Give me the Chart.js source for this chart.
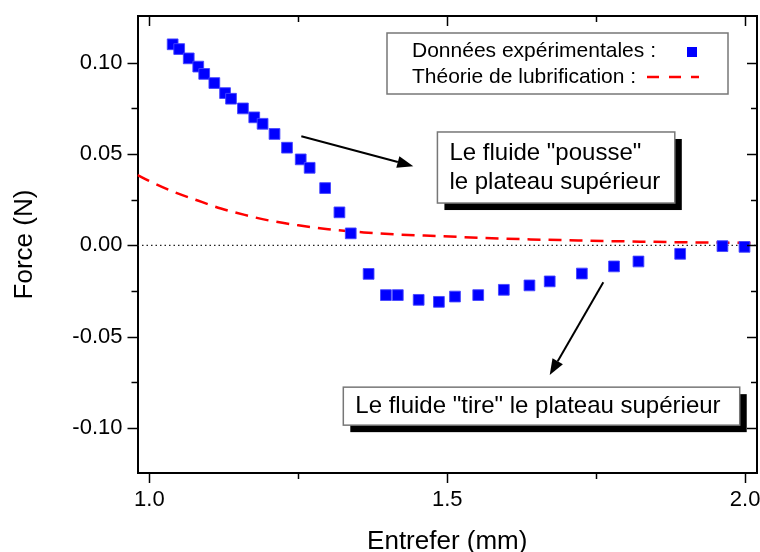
<!DOCTYPE html>
<html>
<head>
<meta charset="utf-8">
<script src="https://cdn.jsdelivr.net/npm/chart.js@4.4.1/dist/chart.umd.min.js"></script>
<style>
  html, body { margin: 0; padding: 0; background: #fff; }
  #wrap { width: 760px; height: 552px; }
</style>
</head>
<body>
<div id="wrap"><canvas id="chart"></canvas></div>
<script>
// Experimental points (gap in mm, force in N)
const gapMm = [1.039, 1.050, 1.066, 1.082, 1.092, 1.109, 1.127, 1.137, 1.157, 1.176,
  1.190, 1.210, 1.231, 1.254, 1.269, 1.295, 1.319, 1.338, 1.368, 1.397,
  1.417, 1.452, 1.486, 1.513, 1.552, 1.595, 1.638, 1.672, 1.726, 1.780,
  1.821, 1.891, 1.962, 1.999];
const forceN = [0.1101, 0.1075, 0.1024, 0.0979, 0.0939, 0.0889, 0.0834, 0.0803, 0.0750, 0.0701,
  0.0666, 0.0610, 0.0535, 0.0471, 0.0425, 0.0314, 0.0181, 0.0066, -0.0156, -0.0272,
  -0.0272, -0.0298, -0.0309, -0.0280, -0.0272, -0.0243, -0.0219, -0.0197, -0.0154, -0.0115,
  -0.0088, -0.0046, -0.0004, -0.0008];

// Lubrication theory curve
const theoryGapMm = [0.98, 1.00, 1.04, 1.08, 1.12, 1.16, 1.20, 1.25, 1.30, 1.36,
  1.42, 1.49, 1.56, 1.64, 1.72, 1.80, 1.90, 2.00, 2.02];
const theoryForceN = [0.0385, 0.0352, 0.0294, 0.0247, 0.0202, 0.0167, 0.0137, 0.0110, 0.0089, 0.0071,
  0.0059, 0.0051, 0.0041, 0.0033, 0.0027, 0.0022, 0.0017, 0.0014, 0.0013];

const xMin = 0.98, xMax = 2.02;
const yMin = -0.1246, yMax = 0.1256;
const xMajorTicks = [1.0, 1.5, 2.0];
const xMinorTicks = [1.25, 1.75];
const yMajorTicks = [-0.10, -0.05, 0.00, 0.05, 0.10];
const yMinorTicks = [-0.075, -0.025, 0.025, 0.075];

const legendLabels = ['Données expérimentales :', 'Théorie de lubrification :'];
const pushText = ['Le fluide "pousse"', 'le plateau supérieur'];
const pullText = ['Le fluide "tire" le plateau supérieur'];

const FONT = "'Liberation Sans', Arial, sans-serif";
const BLUE = '#0000ff';
const RED = '#ff0000';

// box with drop shadow, text lines inside
function shadowBox(ctx, l, t, r, b, lines, lineGap) {
  ctx.fillStyle = '#000';
  ctx.fillRect(l + 7, t + 7, r - l, b - t);
  ctx.fillStyle = '#fff';
  ctx.fillRect(l, t, r - l, b - t);
  ctx.strokeStyle = '#777';
  ctx.lineWidth = 1.5;
  ctx.strokeRect(l, t, r - l, b - t);
  ctx.fillStyle = '#000';
  ctx.font = '24px ' + FONT;
  ctx.textAlign = 'left';
  ctx.textBaseline = 'middle';
  const h = lineGap * (lines.length - 1);
  const cy = (t + b) / 2 - h / 2;
  lines.forEach((s, i) => ctx.fillText(s, l + 12, cy + i * lineGap));
}

function arrow(ctx, x1, y1, x2, y2) {
  const ang = Math.atan2(y2 - y1, x2 - x1);
  const len = 16, hw = 6;
  const bx = x2 - len * Math.cos(ang), by = y2 - len * Math.sin(ang);
  ctx.strokeStyle = '#000';
  ctx.lineWidth = 2;
  ctx.beginPath();
  ctx.moveTo(x1, y1);
  ctx.lineTo(bx, by);
  ctx.stroke();
  ctx.fillStyle = '#000';
  ctx.beginPath();
  ctx.moveTo(x2, y2);
  ctx.lineTo(bx - hw * Math.sin(ang), by + hw * Math.cos(ang));
  ctx.lineTo(bx + hw * Math.sin(ang), by - hw * Math.cos(ang));
  ctx.closePath();
  ctx.fill();
}

// no extra room for overhanging tick labels
function noPad(s) {
  s.paddingTop = 0; s.paddingBottom = 0; s.paddingLeft = 0; s.paddingRight = 0;
}

const framePlugin = {
  id: 'frame',
  afterDraw(chart) {
    const { ctx, chartArea: a, scales: { x, y } } = chart;
    ctx.save();
    ctx.strokeStyle = '#000';
    ctx.lineWidth = 2;
    ctx.beginPath();
    ctx.moveTo(a.left, a.top);
    ctx.lineTo(a.right, a.top);
    ctx.lineTo(a.right, a.bottom);
    ctx.stroke();

    const seg = (x1, y1, x2, y2) => {
      ctx.beginPath(); ctx.moveTo(x1, y1); ctx.lineTo(x2, y2); ctx.stroke();
    };
    ctx.lineWidth = 1.5;
    // bottom/left ticks outward, top/right ticks inward
    xMajorTicks.forEach(v => {
      const px = Math.round(x.getPixelForValue(v)) + 0.5;
      seg(px, a.bottom, px, a.bottom + 10);
      seg(px, a.top, px, a.top + 10);
    });
    xMinorTicks.forEach(v => {
      const px = Math.round(x.getPixelForValue(v)) + 0.5;
      seg(px, a.bottom, px, a.bottom + 6);
      seg(px, a.top, px, a.top + 6);
    });
    yMajorTicks.forEach(v => {
      const py = Math.round(y.getPixelForValue(v)) + 0.5;
      seg(a.left, py, a.left - 10, py);
      seg(a.right, py, a.right - 10, py);
    });
    yMinorTicks.forEach(v => {
      const py = Math.round(y.getPixelForValue(v)) + 0.5;
      seg(a.left, py, a.left - 6, py);
      seg(a.right, py, a.right - 6, py);
    });

    // legend
    const lx = 387, ly = 33, lw = 341, lh = 61;
    ctx.fillStyle = '#fff';
    ctx.fillRect(lx, ly, lw, lh);
    ctx.strokeStyle = '#777';
    ctx.lineWidth = 1.5;
    ctx.strokeRect(lx, ly, lw, lh);
    ctx.fillStyle = '#000';
    ctx.font = '21px ' + FONT;
    ctx.textAlign = 'left';
    ctx.textBaseline = 'middle';
    ctx.fillText(legendLabels[0], lx + 25, ly + 18);
    ctx.fillText(legendLabels[1], lx + 25, ly + 44);
    ctx.fillStyle = BLUE;
    ctx.fillRect(687, ly + 14, 10, 10);
    ctx.strokeStyle = RED;
    ctx.lineWidth = 2.5;
    ctx.setLineDash([12, 10]);
    seg(647, ly + 44, 699, ly + 44);
    ctx.setLineDash([]);

    // annotations anchored in data units
    const X = v => x.getPixelForValue(v), Y = v => y.getPixelForValue(v);
    arrow(ctx, X(1.255), Y(0.0598), X(1.443), Y(0.0434));
    shadowBox(ctx, X(1.4835), Y(0.0621), X(1.882), Y(0.0232), pushText, 29);
    arrow(ctx, X(1.762), Y(-0.0201), X(1.672), Y(-0.0710));
    shadowBox(ctx, X(1.3255), Y(-0.0776), X(1.991), Y(-0.0984), pullText, 0);
    ctx.restore();
  }
};

new Chart(document.getElementById('chart'), {
  type: 'scatter',
  data: {
    datasets: [
      {
        label: 'Données expérimentales',
        data: gapMm.map((g, i) => ({ x: g, y: forceN[i] })),
        pointStyle: 'rect',
        pointRadius: 7.6,
        backgroundColor: BLUE,
        borderColor: 'rgba(70,70,255,0.9)',
        borderWidth: 1,
        showLine: false,
      },
      {
        label: 'Théorie de lubrification',
        data: theoryGapMm.map((g, i) => ({ x: g, y: theoryForceN[i] })),
        showLine: true,
        borderColor: RED,
        borderWidth: 2.5,
        borderDash: [13, 8],
        pointRadius: 0,
        tension: 0.4,
        cubicInterpolationMode: 'monotone',
      },
      {
        label: 'zero',
        data: [{ x: xMin, y: 0 }, { x: xMax, y: 0 }],
        showLine: true,
        borderColor: '#222',
        borderWidth: 1.3,
        borderDash: [1.5, 3],
        pointRadius: 0,
      },
    ],
  },
  options: {
    responsive: true,
    maintainAspectRatio: false,
    animation: false,
    devicePixelRatio: 1,
    layout: { autoPadding: false, padding: { top: 16, right: 3, left: 0, bottom: 0 } },
    plugins: { legend: { display: false }, tooltip: { enabled: false } },
    scales: {
      x: {
        type: 'linear',
        min: xMin,
        max: xMax,
        afterFit(s) { s.height = 79; noPad(s); },
        grid: { display: false },
        border: { display: true, color: '#000', width: 2 },
        ticks: {
          stepSize: 0.5,
          includeBounds: false,
          padding: 6,
          color: '#000',
          maxRotation: 0,
          autoSkip: false,
          font: { family: FONT, size: 22 },
          callback: v => v.toFixed(1),
        },
        title: {
          display: true,
          text: 'Entrefer (mm)',
          color: '#000',
          font: { family: FONT, size: 26, lineHeight: 0.8 },
          padding: 0,
        },
      },
      y: {
        type: 'linear',
        min: yMin,
        max: yMax,
        afterFit(s) { s.width = 137.5; noPad(s); },
        grid: { display: false },
        border: { display: true, color: '#000', width: 2 },
        ticks: {
          stepSize: 0.05,
          includeBounds: false,
          padding: 7,
          color: '#000',
          font: { family: FONT, size: 22 },
          callback: v => (Math.abs(v) < 1e-9 ? 0 : v).toFixed(2),
        },
        title: {
          display: true,
          text: 'Force (N)',
          color: '#000',
          font: { family: FONT, size: 26 },
          padding: { top: 9.4, bottom: 0 },
        },
      },
    },
  },
  plugins: [framePlugin],
});
</script>
</body>
</html>
